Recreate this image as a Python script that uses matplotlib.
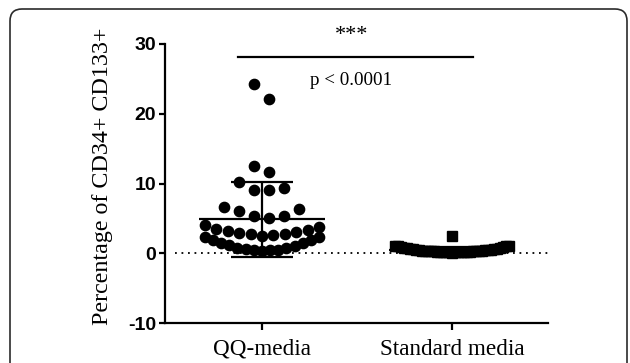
import numpy as np
import matplotlib
matplotlib.use("Agg")
import matplotlib.pyplot as plt
from matplotlib.patches import FancyBboxPatch
from matplotlib.transforms import IdentityTransform

groups = ["QQ-media", "Standard media"]
y_ticks = [-10, 0, 10, 20, 30]
y_label = "Percentage of CD34+ CD133+"
star_text = "***"
p_text = "p < 0.0001"

# values (% CD34+ CD133+ cells)
qq_media = [0.3, 0.4, 0.4, 0.5, 0.6, 0.8, 0.8, 1.1, 1.2, 1.4, 1.5, 1.9, 1.9, 2.35, 2.35,
            2.5, 2.55, 2.7, 2.8, 2.9, 3.1, 3.2, 3.4, 3.5, 3.8, 4.1,
            5.0, 5.3, 5.4, 6.1, 6.3, 6.6,
            9.0, 9.0, 9.3, 10.2,
            11.7, 12.5,
            22.1, 24.2]
standard_media = [0.1, 0.12, 0.13, 0.15, 0.15, 0.17, 0.18, 0.2, 0.2, 0.22, 0.23, 0.25,
                  0.26, 0.28, 0.3, 0.3, 0.32, 0.33, 0.35, 0.37, 0.38, 0.4, 0.42, 0.45,
                  0.48, 0.5, 0.55, 0.58, 0.62, 0.66, 0.7, 0.75, 0.82, 0.88, 0.93, 0.98,
                  1.02, 1.05, 1.1, 2.5]


def swarm(values, center, step=0.079, half=0.30, row_h=2.2):
    """GraphPad-like scatter: group into rows, lowest value in the middle."""
    vals = np.sort(np.asarray(values, dtype=float))
    rows, cur = [], [vals[0]]
    for v in vals[1:]:
        if v - cur[0] < row_h:
            cur.append(v)
        else:
            rows.append(cur)
            cur = [v]
    rows.append(cur)
    xs, ys = [], []
    for row in rows:
        n = len(row)
        st = step if n < 2 else min(step, 2 * half / (n - 1))
        offs = (np.arange(n) - (n - 1) / 2) * st
        order = sorted(range(n), key=lambda i: (abs(offs[i]), -offs[i]))
        for v, i in zip(row, order):
            xs.append(center + offs[i])
            ys.append(v)
    return np.array(xs), np.array(ys)


W, H = 630, 363
fig = plt.figure(figsize=(W / 100, H / 100), dpi=100)
fig.patch.set_facecolor("white")

frame = FancyBboxPatch((10, -40), 617, 394, boxstyle="round,pad=0,rounding_size=12",
                       transform=IdentityTransform(), facecolor="none",
                       edgecolor="#2b2b2b", linewidth=1.2)
fig.add_artist(frame)

ax = fig.add_axes([165 / W, (H - 323) / H, (548 - 165) / W, (323 - 44) / H])
ax.set_xlim(-0.51, 1.505)
ax.set_ylim(-10, 30)

serif = ["Liberation Serif", "DejaVu Serif"]
narrow = ["Liberation Sans Narrow", "Liberation Sans", "DejaVu Sans"]

ax.plot([-0.46, 1.505], [0, 0], color="black", lw=1.3, ls=(0, (1, 2.6)), zorder=1)

for k, (vals, mk, ms) in enumerate([(qq_media, "o", 7.4), (standard_media, "s", 7.5)]):
    xs, ys = swarm(vals, k)
    ax.plot(xs, ys, ls="none", marker=mk, ms=ms, color="black", mec="black", zorder=3)
    m = np.mean(vals)
    sd = np.std(vals, ddof=1)
    ax.hlines(m, k - 0.33, k + 0.33, color="black", lw=1.6, zorder=4)
    ax.vlines(k, m - sd, m + sd, color="black", lw=1.6, zorder=4)
    ax.hlines([m - sd, m + sd], k - 0.163, k + 0.163, color="black", lw=1.6, zorder=4)

ax.plot([-0.126, 1.11], [28.1, 28.1], color="black", lw=1.6, clip_on=False)
ax.text(0.47, 29.8, star_text, ha="center", va="bottom", fontsize=16, family=serif)
ax.text(0.47, 24.8, p_text, ha="center", va="center", fontsize=13.7, family=serif)

for s in ["top", "right"]:
    ax.spines[s].set_visible(False)
for s in ["left", "bottom"]:
    ax.spines[s].set_linewidth(1.6)

ax.set_yticks(y_ticks)
ax.set_yticklabels([str(t) for t in y_ticks], fontsize=14, fontweight="bold", family=narrow)
ax.set_xticks([0, 1])
ax.set_xticklabels(groups, fontsize=16.7, family=serif)
ax.tick_params(axis="y", length=4.5, width=1.6, pad=2)
ax.tick_params(axis="x", length=5, width=1.6, pad=6.5)

ax.set_ylabel(y_label, fontsize=17.3, family=serif)
ax.yaxis.set_label_coords(-0.135, 0.525)

fig.savefig("out.png", dpi=100, facecolor="white")
